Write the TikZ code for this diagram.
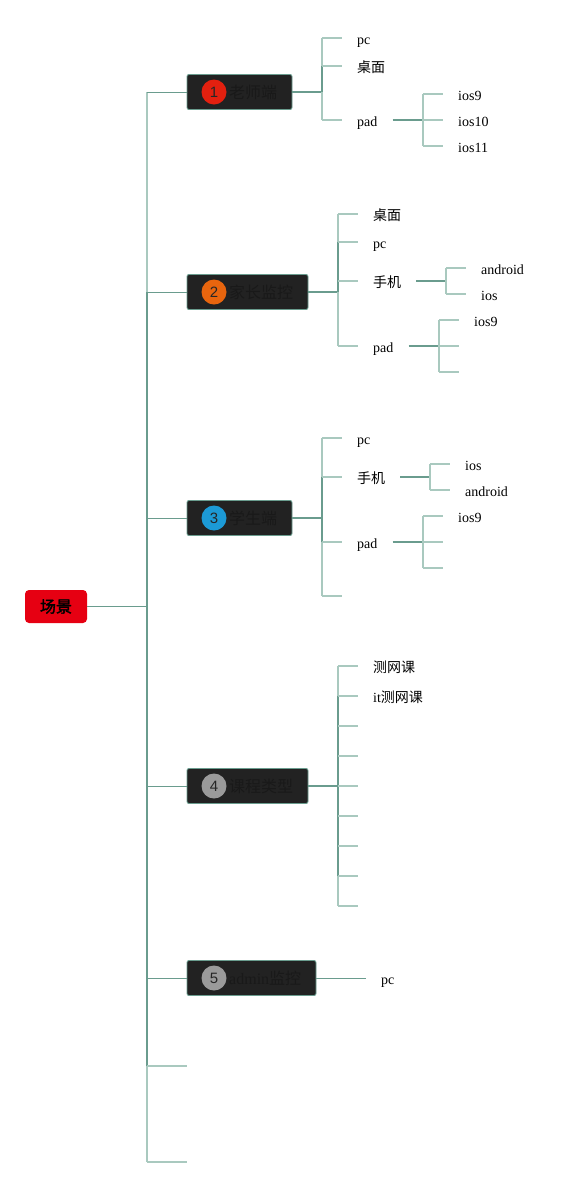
\documentclass[tikz,border=0pt]{standalone}
\usepackage{fontspec}
\setmainfont{Liberation Serif}
\newfontfamily\cjk{Noto Sans CJK SC}
\newfontfamily\cjkbold[FakeBold=2]{Noto Sans CJK SC}
\newfontfamily\digitfont{Liberation Sans}
\usetikzlibrary{positioning}
\definecolor{Lk}{HTML}{6A9C8E}
\definecolor{Lt}{HTML}{A9C9BF}
\definecolor{Cb}{HTML}{222222}
\definecolor{Cr}{HTML}{E60012}
\definecolor{Ca}{HTML}{E3200F}
\definecolor{Co}{HTML}{E8650E}
\definecolor{Cu}{HTML}{1C9AD6}
\definecolor{Cg}{HTML}{9A9A9A}

\tikzset{
	root/.style={fill=Cr, rounded corners=4pt, minimum width=62pt, minimum height=33pt,
		inner sep=0pt, font=\fontsize{16}{18}\selectfont},
	topic/.style={draw=Lk, line width=0.9pt, fill=Cb, rounded corners=2pt,
		minimum height=35pt, inner sep=0pt},
	badge/.style={circle, inner sep=0pt, minimum size=25pt,
		font=\digitfont\fontsize{15}{15}\selectfont, text=black!85},
	topictext/.style={anchor=west, inner sep=0pt, text=black!90,
		font=\fontsize{16}{18}\selectfont},
	leaf/.style={anchor=west, inner sep=0pt, text height=12pt, text depth=0pt,
		font=\fontsize{14}{16}\selectfont},
	limb/.style={Lk, line width=1.5pt},
	twig/.style={Lt, line width=1.4pt},
	branch/.style={Lk, line width=1pt},
}

\begin{document}
\begin{tikzpicture}[x=1pt, y=-1pt]
	\useasboundingbox (0,0) rectangle (584,1187);
	
	%% root
	\node[root] (root) at (56,606.5) {\cjkbold 场景};
	\coordinate (trunk) at (147,606.5);
	
	%% ── topics ───────────────────────────────────────────────
	\node[topic, minimum width=105pt] (b1) at (239.5,92) {};
	\node[badge, fill=Ca] (b1n) at (214,92) {1};
	\node[topictext] (b1t) at (229,92) {\cjk 老师端};
	
	\node[topic, minimum width=121pt] (b2) at (247.5,292) {};
	\node[badge, fill=Co] (b2n) at (214,292) {2};
	\node[topictext] (b2t) at (229,292) {\cjk 家长监控};
	
	\node[topic, minimum width=105pt] (b3) at (239.5,518) {};
	\node[badge, fill=Cu] (b3n) at (214,518) {3};
	\node[topictext] (b3t) at (229,518) {\cjk 学生端};
	
	\node[topic, minimum width=121pt] (b4) at (247.5,786) {};
	\node[badge, fill=Cg] (b4n) at (214,786) {4};
	\node[topictext] (b4t) at (229,786) {\cjk 课程类型};
	
	\node[topic, minimum width=129pt] (b5) at (251.5,978) {};
	\node[badge, fill=Cg] (b5n) at (214,978) {5};
	\node[topictext] (b5t) at (229,978) {admin{\cjk 监控}};
	
	\coordinate (e6) at (187,1066);
	\coordinate (e7) at (187,1162);
	
	%% trunk
	\draw[branch] (root.east) -- (trunk);
	\draw[twig] (trunk |- b1.west) -- (trunk |- e7);
	\draw[limb] (trunk |- b2.west) -- (trunk |- e6);
	\foreach \b in {b1,b2,b3,b4,b5}
	\draw[branch] (trunk |- \b.west) -- (\b.west);
	\draw[twig] (trunk |- e6) -- (e6);
	\draw[twig] (trunk |- e7) -- (e7);
	
	%% ── 1 ───────────────────────────────────────────────────
	\coordinate (j1) at (322,92);
	\node[leaf] (l1pc) at (357,38) {pc};
	\node[leaf] (l1desk) at (357,66) {\cjk 桌面};
	\node[leaf] (l1pad) at (357,120) {pad};
	\coordinate (j1pad) at (423,120);
	\node[leaf] (l1ios9) at (458,94) {ios9};
	\node[leaf] (l1ios10) at (458,120) {ios10};
	\node[leaf] (l1ios11) at (458,146) {ios11};
	
	\draw[limb] (b1.east) -- (j1);
	\draw[twig] (j1 |- l1pc.west) -- (j1 |- l1pad.west);
	\draw[limb] (j1 |- l1desk.west) -- (j1);
	\foreach \n in {l1pc,l1desk,l1pad}
	\draw[twig] (j1 |- \n.west) -- ([xshift=-15pt]\n.west);
	\draw[limb] ([xshift=15pt]l1pad.east) -- (j1pad);
	\draw[twig] (j1pad |- l1ios9.west) -- (j1pad |- l1ios11.west);
	\foreach \n in {l1ios9,l1ios10,l1ios11}
	\draw[twig] (j1pad |- \n.west) -- ([xshift=-15pt]\n.west);
	
	%% ── 2 ───────────────────────────────────────────────────
	\coordinate (j2) at (338,292);
	\node[leaf] (l2desk) at (373,214) {\cjk 桌面};
	\node[leaf] (l2pc) at (373,242) {pc};
	\node[leaf] (l2phone) at (373,281) {\cjk 手机};
	\node[leaf] (l2pad) at (373,346) {pad};
	\coordinate (j2phone) at (446,281);
	\node[leaf] (l2and) at (481,268) {android};
	\node[leaf] (l2ios) at (481,294) {ios};
	\coordinate (j2pad) at (439,346);
	\node[leaf] (l2ios9) at (474,320) {ios9};
	\coordinate (e2p2) at (459,346);
	\coordinate (e2p3) at (459,372);
	
	\draw[limb] (b2.east) -- (j2);
	\draw[twig] (j2 |- l2desk.west) -- (j2 |- l2pad.west);
	\draw[limb] (j2 |- l2pc.west) -- (j2);
	\foreach \n in {l2desk,l2pc,l2phone,l2pad}
	\draw[twig] (j2 |- \n.west) -- ([xshift=-15pt]\n.west);
	\draw[limb] ([xshift=15pt]l2phone.east) -- (j2phone);
	\draw[twig] (j2phone |- l2and.west) -- (j2phone |- l2ios.west);
	\foreach \n in {l2and,l2ios}
	\draw[twig] (j2phone |- \n.west) -- ([xshift=-15pt]\n.west);
	\draw[limb] ([xshift=15pt]l2pad.east) -- (j2pad);
	\draw[twig] (j2pad |- l2ios9.west) -- (j2pad |- e2p3);
	\draw[twig] (j2pad |- l2ios9.west) -- ([xshift=-15pt]l2ios9.west);
	\draw[twig] (j2pad |- e2p2) -- (e2p2);
	\draw[twig] (j2pad |- e2p3) -- (e2p3);
	
	%% ── 3 ───────────────────────────────────────────────────
	\coordinate (j3) at (322,518);
	\node[leaf] (l3pc) at (357,438) {pc};
	\node[leaf] (l3phone) at (357,477) {\cjk 手机};
	\node[leaf] (l3pad) at (357,542) {pad};
	\coordinate (e3) at (342,596);
	\coordinate (j3phone) at (430,477);
	\node[leaf] (l3ios) at (465,464) {ios};
	\node[leaf] (l3and) at (465,490) {android};
	\coordinate (j3pad) at (423,542);
	\node[leaf] (l3ios9) at (458,516) {ios9};
	\coordinate (e3p2) at (443,542);
	\coordinate (e3p3) at (443,568);
	
	\draw[limb] (b3.east) -- (j3);
	\draw[twig] (j3 |- l3pc.west) -- (j3 |- e3);
	\draw[limb] (j3 |- l3phone.west) -- (j3 |- l3pad.west);
	\foreach \n in {l3pc,l3phone,l3pad}
	\draw[twig] (j3 |- \n.west) -- ([xshift=-15pt]\n.west);
	\draw[twig] (j3 |- e3) -- (e3);
	\draw[limb] ([xshift=15pt]l3phone.east) -- (j3phone);
	\draw[twig] (j3phone |- l3ios.west) -- (j3phone |- l3and.west);
	\foreach \n in {l3ios,l3and}
	\draw[twig] (j3phone |- \n.west) -- ([xshift=-15pt]\n.west);
	\draw[limb] ([xshift=15pt]l3pad.east) -- (j3pad);
	\draw[twig] (j3pad |- l3ios9.west) -- (j3pad |- e3p3);
	\draw[twig] (j3pad |- l3ios9.west) -- ([xshift=-15pt]l3ios9.west);
	\draw[twig] (j3pad |- e3p2) -- (e3p2);
	\draw[twig] (j3pad |- e3p3) -- (e3p3);
	
	%% ── 4 ───────────────────────────────────────────────────
	\coordinate (j4) at (338,786);
	\node[leaf] (l4a) at (373,666) {\cjk 测网课};
	\node[leaf] (l4b) at (373,696) {it{\cjk 测网课}};
	\foreach \k in {3,...,9}
	\coordinate (e4\k) at (358,636+30*\k);
	
	\draw[limb] (b4.east) -- (j4);
	\draw[twig] (j4 |- l4a.west) -- (j4 |- e49);
	\draw[limb] (j4 |- l4b.west) -- (j4 |- e48);
	\foreach \n in {l4a,l4b}
	\draw[twig] (j4 |- \n.west) -- ([xshift=-15pt]\n.west);
	\foreach \k in {3,...,9}
	\draw[twig] (j4 |- e4\k) -- (e4\k);
	
	%% ── 5 ───────────────────────────────────────────────────
	\node[leaf] (l5pc) at (381,978) {pc};
	\draw[branch] (b5.east) -- ([xshift=-15pt]l5pc.west);
	
\end{tikzpicture}
\end{document}
